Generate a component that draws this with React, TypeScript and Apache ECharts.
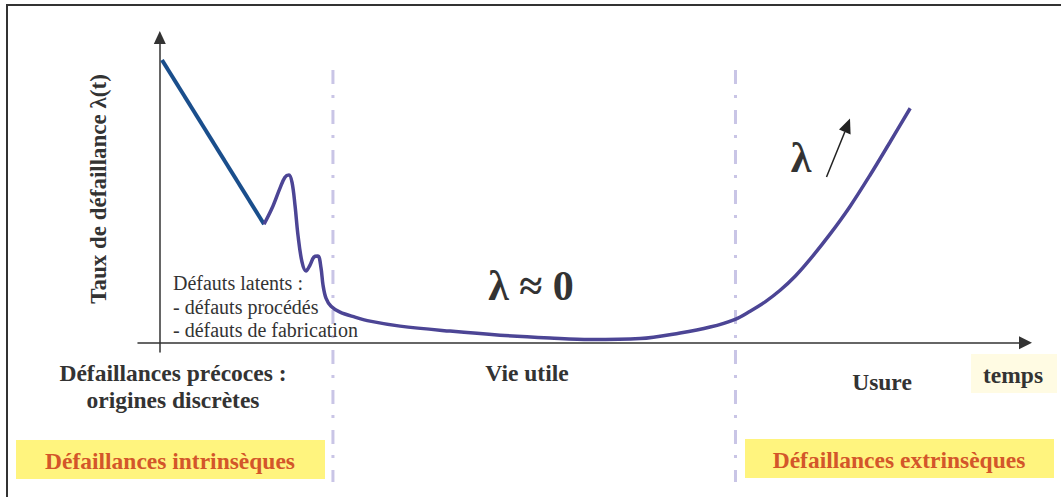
import React, { useEffect, useRef } from "react";
import * as echarts from "echarts";

// Early-failure straight decline (t, λ)
const earlyDecline: [number, number][] = [
  [0.25, 90.7],
  [11.95, 38.0],
];

// Bathtub curve after the initial decline (t, λ)
const bathtubCurve: [number, number][] = [
  [11.95, 38.0],
  [12.86, 43.1],
  [13.78, 49.6],
  [14.35, 53.1],
  [14.81, 53.8],
  [15.16, 51.4],
  [15.5, 44.1],
  [15.84, 34.5],
  [16.3, 25.9],
  [16.76, 23.0],
  [17.22, 24.9],
  [17.67, 27.5],
  [18.13, 27.8],
  [18.48, 24.0],
  [18.71, 18.5],
  [19.05, 14.3],
  [19.63, 11.7],
  [20.66, 9.8],
  [22.38, 8.2],
  [24.1, 6.9],
  [27.54, 5.3],
  [33.28, 3.7],
  [39.01, 2.4],
  [44.74, 1.5],
  [49.33, 1.0],
  [55.06, 1.3],
  [59.65, 3.1],
  [63.09, 5.0],
  [65.96, 7.5],
  [67.68, 10.1],
  [69.4, 13.1],
  [71.12, 16.8],
  [72.84, 21.3],
  [74.54, 26.7],
  [76.84, 34.8],
  [79.13, 43.7],
  [81.42, 53.7],
  [83.71, 64.3],
  [86.03, 75.2],
];

// Phase boundaries on the time axis
const phaseBounds: number[] = [19.85, 66.0];

const yAxisTitle = "Taux de défaillance λ(t)";
const xAxisTitle = "temps";
const phaseLabels = ["Vie utile", "Usure"];
const earlyLabelLines = ["Défaillances précoces :", "origines discrètes"];
const latentLines = ["Défauts latents :", "- défauts procédés", "- défauts de fabrication"];
const boxLabels = ["Défaillances intrinsèques", "Défaillances extrinsèques"];
const lambdaZero = "λ ≈ 0";
const lambdaUp = "λ";

const SERIF = "Liberation Serif, Times New Roman, serif";
const DARK = "#333333";
const BOX_YELLOW = "#fff47e";
const BOX_TEXT = "#d3562a";

export default function App() {
  const ref = useRef<HTMLDivElement>(null);

  useEffect(() => {
    if (!ref.current) return;
    const chart = echarts.init(ref.current, null, { renderer: "svg" });

    chart.setOption({
      animation: false,
      backgroundColor: "#ffffff",
      textStyle: { fontFamily: SERIF },
      grid: { left: 138, right: 35.5, top: 37.5, bottom: 145, containLabel: false },
      xAxis: {
        type: "value",
        min: -2.5,
        max: 99.25,
        axisLine: {
          show: true,
          onZero: true,
          symbol: ["none", "triangle"],
          symbolSize: [13, 13],
          lineStyle: { color: DARK, width: 1.5 },
        },
        axisTick: { show: false },
        axisLabel: { show: false },
        splitLine: { show: false },
      },
      yAxis: {
        type: "value",
        min: -3,
        max: 97.9,
        axisLine: {
          show: true,
          onZero: true,
          symbol: ["none", "triangle"],
          symbolSize: [12, 13],
          lineStyle: { color: DARK, width: 1.5 },
        },
        axisTick: { show: false },
        axisLabel: { show: false },
        splitLine: { show: false },
      },
      series: [
        {
          type: "line",
          data: earlyDecline,
          showSymbol: false,
          lineStyle: { color: "#1a4e8c", width: 4 },
          z: 3,
        },
        {
          type: "line",
          data: bathtubCurve,
          smooth: 0.35,
          showSymbol: false,
          lineStyle: { color: "#4c4595", width: 3.5 },
          z: 3,
        },
      ],
    });

    const bx = phaseBounds.map((t) => chart.convertToPixel({ gridIndex: 0 }, [t, 0])[0]);

    const txt = (x: number, y: number, text: string, size: number, bold: boolean, fill = DARK, align = "center") => ({
      type: "text",
      x,
      y,
      style: {
        text,
        fill,
        font: `${bold ? "bold " : ""}${size}px ${SERIF}`,
        textAlign: align,
        textVerticalAlign: "middle",
      },
      z: 5,
    });

    const dash = (x: number) => ({
      type: "line",
      shape: { x1: x, y1: 70, x2: x, y2: 482 },
      style: { stroke: "#c9c5e6", lineWidth: 3, lineDash: [14, 11, 3, 12] },
      z: 1,
    });

    chart.setOption({
      graphic: [
        {
          type: "polyline",
          shape: { points: [[7, 497], [7, 5], [1061, 5]] },
          style: { stroke: DARK, lineWidth: 2, fill: null },
        },
        dash(bx[0]),
        dash(bx[1]),
        {
          type: "text",
          x: 98,
          y: 189,
          rotation: Math.PI / 2,
          style: {
            text: yAxisTitle,
            fill: DARK,
            font: `bold 23px ${SERIF}`,
            textAlign: "center",
            textVerticalAlign: "middle",
          },
        },
        txt(173, 283, latentLines[0], 20, false, DARK, "left"),
        txt(173, 306.5, latentLines[1], 20, false, DARK, "left"),
        txt(173, 330, latentLines[2], 20, false, DARK, "left"),
        txt(531, 286, lambdaZero, 42, true),
        txt(801, 158, lambdaUp, 42, true),
        {
          type: "line",
          shape: { x1: 826.5, y1: 177, x2: 844.8, y2: 132 },
          style: { stroke: "#222", lineWidth: 1.5 },
        },
        {
          type: "polygon",
          shape: { points: [[850, 118.5], [850.6, 134.5], [839, 129.5]] },
          style: { fill: "#222" },
        },
        txt(173, 373, earlyLabelLines[0], 23.5, true),
        txt(173, 400, earlyLabelLines[1], 23.5, true),
        txt(527, 373, phaseLabels[0], 23.5, true),
        txt(882, 382, phaseLabels[1], 23.5, true),
        {
          type: "rect",
          shape: { x: 971, y: 354, width: 86, height: 39 },
          style: { fill: "#fffbe3" },
        },
        txt(1013, 375, xAxisTitle, 23.5, true),
        {
          type: "rect",
          shape: { x: 16, y: 440, width: 309, height: 39 },
          style: { fill: BOX_YELLOW },
        },
        txt(170, 461, boxLabels[0], 23.5, true, BOX_TEXT),
        {
          type: "rect",
          shape: { x: 745, y: 439, width: 309, height: 39 },
          style: { fill: BOX_YELLOW },
        },
        txt(899, 460, boxLabels[1], 23.5, true, BOX_TEXT),
      ],
    });

    return () => chart.dispose();
  }, []);

  return (
    <div
      ref={ref}
      style={{ position: "absolute", left: 0, top: 0, width: 1061, height: 497 }}
    />
  );
}
